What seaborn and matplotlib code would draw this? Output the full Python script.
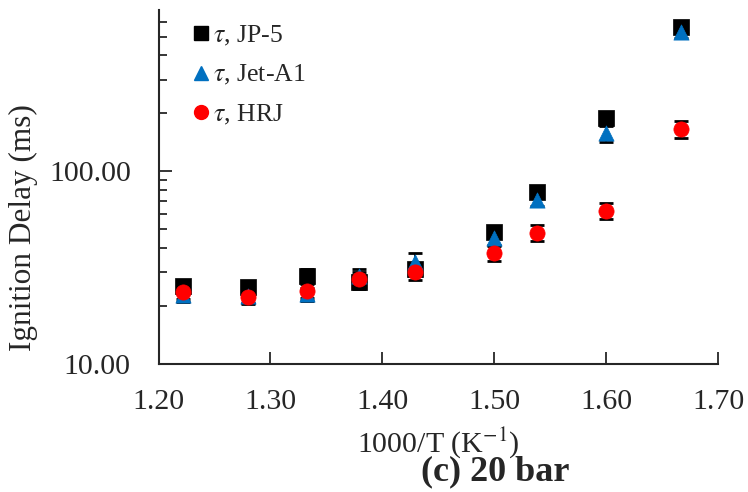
import numpy as np
import pandas as pd
import matplotlib
matplotlib.use("Agg")
import matplotlib.pyplot as plt
import seaborn as sns
from matplotlib.lines import Line2D
from matplotlib.ticker import FixedLocator, LogLocator, NullFormatter, FormatStrFormatter

# data (20 bar)
inv_T = [1.222, 1.280, 1.333, 1.379, 1.429, 1.500, 1.538, 1.600, 1.667]
tau_jp5 = [25.3, 25.0, 28.8, 26.8, 31.0, 48.5, 78.5, 189.0, 565.0]
tau_jeta1 = [22.8, 22.5, 23.0, 28.8, 33.7, 45.0, 71.5, 158.0, 532.0]
tau_hrj = [23.7, 22.2, 24.0, 27.8, 29.9, 37.9, 48.1, 62.5, 166.0]
err_jp5 = [2.0, 2.0, 2.3, 2.2, 2.5, 3.5, 5.5, 15.0, 40.0]
err_jeta1 = [1.8, 1.8, 1.8, 2.5, 4.0, 4.0, 5.5, 15.0, 40.0]
err_hrj = [1.9, 1.8, 1.9, 2.2, 2.5, 3.5, 4.5, 6.0, 16.0]

fuels = ["JP-5", "Jet-A1", "HRJ"]
colors = {"JP-5": "#000000", "Jet-A1": "#0070C0", "HRJ": "#FF0000"}
markers = {"JP-5": "s", "Jet-A1": "^", "HRJ": "o"}

df = pd.concat([
    pd.DataFrame({"x": inv_T, "tau": tau_jp5, "err": err_jp5, "fuel": "JP-5"}),
    pd.DataFrame({"x": inv_T, "tau": tau_jeta1, "err": err_jeta1, "fuel": "Jet-A1"}),
    pd.DataFrame({"x": inv_T, "tau": tau_hrj, "err": err_hrj, "fuel": "HRJ"}),
], ignore_index=True)

sns.set_style("ticks")
plt.rcParams["font.family"] = ["Liberation Serif", "DejaVu Serif"]
plt.rcParams["mathtext.fontset"] = "stix"

fig = plt.figure(figsize=(7.48, 4.92), dpi=100)
ax = fig.add_axes([0.212, 0.26, 0.748, 0.72])

for f in fuels:
    sub = df[df["fuel"] == f]
    ax.errorbar(sub["x"], sub["tau"], yerr=sub["err"], fmt="none",
                ecolor="black", elinewidth=1.2, capsize=5, capthick=2, zorder=2)
    sns.scatterplot(data=sub, x="x", y="tau", color=colors[f], marker=markers[f],
                    s=120, edgecolor=colors[f], linewidth=0.5, ax=ax, zorder=3,
                    legend=False)

ax.set_yscale("log")
ax.set_xlim(1.20, 1.70)
ax.set_ylim(10, 690)
ax.xaxis.set_major_locator(FixedLocator([1.2, 1.3, 1.4, 1.5, 1.6, 1.7]))
ax.xaxis.set_major_formatter(FormatStrFormatter("%.2f"))
ax.yaxis.set_major_locator(FixedLocator([10, 100]))
ax.yaxis.set_major_formatter(FormatStrFormatter("%.2f"))
ax.yaxis.set_minor_locator(LogLocator(base=10, subs=np.arange(2, 10)))
ax.yaxis.set_minor_formatter(NullFormatter())

ax.tick_params(axis="x", which="major", direction="in", length=9, width=1.3,
               labelsize=21.5, pad=18)
ax.tick_params(axis="y", which="major", direction="in", length=9, width=1.3,
               labelsize=21.5, pad=20)
ax.tick_params(axis="y", which="minor", direction="in", length=6, width=1.3)

for s in ["top", "right"]:
    ax.spines[s].set_visible(False)
for s in ["left", "bottom"]:
    ax.spines[s].set_linewidth(1.5)

ax.set_xlabel("1000/T (K$^{-1}$)", fontsize=21.5)
ax.xaxis.set_label_coords(0.5, -0.172)
ax.set_ylabel("Ignition Delay (ms)", fontsize=22.5)
ax.yaxis.set_label_coords(-0.216, 0.384)

fig.text(0.662, 0.04, "(c) 20 bar", fontsize=26, fontweight="bold",
         ha="center", va="center")

handles = [Line2D([], [], linestyle="none", marker=markers[f], color=colors[f],
                  markersize=10) for f in fuels]
labels = [r"$\tau$, " + f for f in fuels]
ax.legend(handles, labels, loc="upper left", bbox_to_anchor=(0.035, 1.005),
          frameon=False, fontsize=18.5, handlelength=0.6, handletextpad=0.15,
          labelspacing=0.6, borderpad=0.1)

fig.savefig("out.png", dpi=100)
